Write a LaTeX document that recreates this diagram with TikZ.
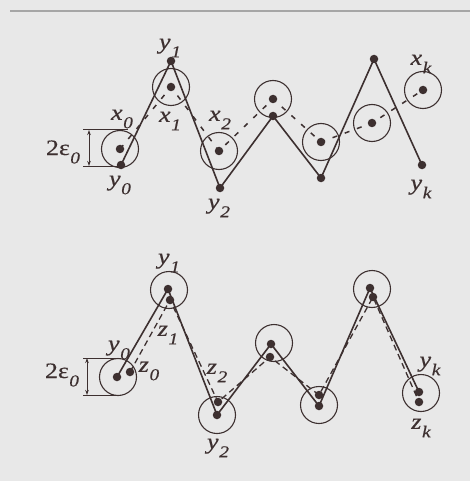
\documentclass[tikz,border=0pt]{standalone}
\usepackage{fontspec}
\setmainfont{Liberation Serif}
\newfontfamily\labfont[FakeStretch=1.18,FakeBold=0.5]{Liberation Serif}
\usetikzlibrary{arrows.meta}
\definecolor{ink}{rgb}{0.24,0.19,0.19}
\definecolor{paper}{rgb}{0.91,0.91,0.91}
\newcommand{\lb}[2]{{\labfont\itshape #1}\kern0.03em\raisebox{-0.38em}{\fontsize{16.5}{18}\labfont\itshape #2}}
\newcommand{\epsl}{{\labfont 2ε}\kern0.02em\raisebox{-0.38em}{\fontsize{16.5}{18}\labfont\itshape 0}}
\tikzset{
  dot/.style={circle,fill=ink,draw=none,inner sep=0pt,minimum size=8.5pt},
  ring/.style={circle,draw=ink,line width=1.1pt,inner sep=0pt,minimum size=37pt},
  solidline/.style={draw=ink,line width=1.6pt},
  sparsedash/.style={draw=ink,line width=1.5pt,dash pattern=on 5pt off 8pt},
  densedash/.style={draw=ink,line width=1.3pt,dash pattern=on 6pt off 4pt},
  lab/.style={font=\fontsize{22}{24}\selectfont,text=ink,inner sep=0pt},
  dim/.style={draw=ink,line width=1pt},
  dimarrow/.style={draw=ink,line width=1pt,{Stealth[length=5pt,width=3.5pt]}-{Stealth[length=5pt,width=3.5pt]}}
}
\begin{document}
\begin{tikzpicture}[x=1pt,y=-1pt]
\fill[paper] (0,0) rectangle (470,481);
\useasboundingbox (0,0) rectangle (470,481);
\coordinate (tl) at (10,11);
\coordinate (tr) at (470,11);
\draw[gray!70,line width=1.3pt] (tl) -- (tr);

% ---------- top panel ----------
\node[dot] (ty0) at (121,165) {};
\node[dot] (ty1) at (171,61) {};
\node[dot] (ty2) at (220,188) {};
\node[dot] (ty3) at (273,116) {};
\node[dot] (ty4) at (321,178) {};
\node[dot] (ty5) at (374,59) {};
\node[dot] (tyk) at (422,165) {};

\node[dot] (tx0) at (120,149) {};
\node[dot] (tx1) at (171,87) {};
\node[dot] (tx2) at (219,151) {};
\node[dot] (tx3) at (273,99) {};
\node[dot] (tx4) at (321,142) {};
\node[dot] (tx5) at (372,123) {};
\node[dot] (txk) at (423,90) {};

\foreach \n in {tx0,tx1,tx2,tx3,tx4,tx5,txk}
  \node[ring] at (\n.center) {};

\draw[solidline] (ty0.center) -- (ty1.center) -- (ty2.center) -- (ty3.center)
  -- (ty4.center) -- (ty5.center) -- (tyk.center);
\draw[sparsedash] (tx0.center) -- (tx1.center) -- (tx2.center) -- (tx3.center)
  -- (tx4.center) -- (tx5.center) -- (txk.center);

\node[lab] (lty1) at (170,48) {\lb{y}{1}};
\node[lab] (ltx0) at (122,119) {\lb{x}{0}};
\node[lab] (ltx1) at (170,121) {\lb{x}{1}};
\node[lab] (ltx2) at (220,120) {\lb{x}{2}};
\node[lab] (lty0) at (120,185) {\lb{y}{0}};
\node[lab] (lty2) at (219,208) {\lb{y}{2}};
\node[lab] (ltxk) at (421,64) {\lb{x}{k}};
\node[lab] (ltyk) at (421,189) {\lb{y}{k}};

\coordinate (td1) at (83,130);
\coordinate (td2) at (128,130);
\coordinate (td3) at (83,166);
\coordinate (td4) at (121,166);
\coordinate (ta1) at (89,130);
\coordinate (ta2) at (89,166);
\draw[dim] (td1) -- (td2);
\draw[dim] (td3) -- (td4);
\draw[dimarrow] (ta1) -- (ta2);
\node[lab] (lte) at (63,152) {\epsl};

% ---------- bottom panel ----------
\node[dot] (by0) at (117,377) {};
\node[dot] (by1) at (168,289) {};
\node[dot] (by2) at (217,415) {};
\node[dot] (by3) at (271,344) {};
\node[dot] (by4) at (319,406) {};
\node[dot] (by5) at (370,288) {};
\node[dot] (byk) at (419,392) {};

\node[dot] (bz0) at (130,372) {};
\node[dot] (bz1) at (170,300) {};
\node[dot] (bz2) at (218,402) {};
\node[dot] (bz3) at (270,357) {};
\node[dot] (bz4) at (319,395) {};
\node[dot] (bz5) at (373,297) {};
\node[dot] (bzk) at (419,402) {};

\node[ring] at (118,377) {};
\node[ring] at (169,290) {};
\node[ring] at (217,415) {};
\node[ring] at (274,343) {};
\node[ring] at (319,405) {};
\node[ring] at (372,289) {};
\node[ring] at (421,393) {};

\draw[solidline] (by0.center) -- (by1.center) -- (by2.center) -- (by3.center)
  -- (by4.center) -- (by5.center) -- (byk.center);
\draw[densedash] (bz0.center) -- (bz1.center) -- (bz2.center) -- (bz3.center)
  -- (bz4.center) -- (bz5.center) -- (bzk.center);

\node[lab] (lby1) at (169,263) {\lb{y}{1}};
\node[lab] (lby0) at (119,350) {\lb{y}{0}};
\node[lab] (lbz0) at (149,371) {\lb{z}{0}};
\node[lab] (lbz1) at (168,335) {\lb{z}{1}};
\node[lab] (lbz2) at (217,373) {\lb{z}{2}};
\node[lab] (lby2) at (218,448) {\lb{y}{2}};
\node[lab] (lbyk) at (430,366) {\lb{y}{k}};
\node[lab] (lbzk) at (421,428) {\lb{z}{k}};

\coordinate (bd1) at (83,358);
\coordinate (bd2) at (120,358);
\coordinate (bd3) at (83,395);
\coordinate (bd4) at (120,395);
\coordinate (ba1) at (87,358);
\coordinate (ba2) at (87,395);
\draw[dim] (bd1) -- (bd2);
\draw[dim] (bd3) -- (bd4);
\draw[dimarrow] (ba1) -- (ba2);
\node[lab] (lbe) at (62,375) {\epsl};
\end{tikzpicture}
\end{document}
